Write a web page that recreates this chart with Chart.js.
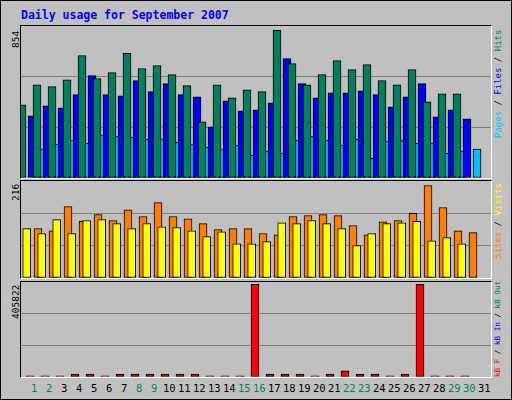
<!DOCTYPE html>
<html><head><meta charset="utf-8">
<script src="https://cdn.jsdelivr.net/npm/chart.js@4"></script>
<style>
body{margin:0;background:#fff}
#w{position:absolute;left:0;top:0;width:510px;height:398px;background:#C0C0C0;border:1px solid #000;font-family:"DejaVu Sans Mono",monospace;overflow:hidden}
.t{position:absolute;white-space:nowrap}
.p{position:absolute;border-top:1px solid #000;border-left:1px solid #000;border-right:1px solid #fff;border-bottom:1px solid #fff}
canvas{position:absolute}
.rot{position:absolute;transform-origin:0 0;transform:rotate(-90deg);white-space:nowrap;font-size:9px}
</style></head><body>
<div id="w">
<div class="t" style="left:20px;top:7px;font-size:11.5px;font-weight:bold;color:#0000FF">Daily usage for September 2007</div>
<div class="p" style="left:19px;top:24px;width:470px;height:152px"></div>
<div class="p" style="left:19px;top:179px;width:470px;height:97px"></div>
<div class="p" style="left:19px;top:280px;width:470px;height:95px"></div>
<canvas id="c1" width="470" height="152" style="left:20px;top:25px"></canvas>
<canvas id="c2" width="470" height="97" style="left:20px;top:180px"></canvas>
<canvas id="c3" width="470" height="95" style="left:20px;top:281px"></canvas>
<div class="rot" style="left:9px;top:47px;font-size:9.5px">854</div>
<div class="rot" style="left:9px;top:200px;font-size:9.5px">216</div>
<div class="rot" style="left:9px;top:318px;font-size:9.5px">405822</div>
<div class="rot" style="left:492px;top:137px"><span style="color:#00C0FF">Pages</span> / <span style="color:#0000FF">Files</span> / <span style="color:#00805C">Hits</span></div>
<div class="rot" style="left:492px;top:258px"><span style="color:#FF8000">Sites</span> / <span style="color:#FFFF00">Visits</span></div>
<div class="rot" style="left:492px;top:376px;font-size:7.6px"><span style="color:#FF0000">kB F</span> / <span style="color:#0000FF">kB In</span> / <span style="color:#00805C">kB Out</span></div>
<div id="days"></div>
</div>
<script>
const days=[1,2,3,4,5,6,7,8,9,10,11,12,13,14,15,16,17,18,19,20,21,22,23,24,25,26,27,28,29,30,31];
const weekend=[1,2,8,9,15,16,22,23,29,30];
const hits=[411,524,513,552,688,558,592,700,615,632,581,519,315,524,451,496,485,830,643,524,581,660,609,637,547,524,609,428,473,473,0];
const files=[349,405,394,468,575,468,462,547,485,530,468,456,287,434,377,383,422,671,530,451,479,479,490,468,400,456,530,343,383,332,0];
const pages=[162,190,213,196,241,236,230,219,219,202,190,174,162,185,128,151,140,213,236,213,185,219,111,207,213,196,196,140,151,162,0];
const visits=[110,99,130,99,128,130,121,110,121,114,112,105,92,103,76,76,81,123,121,128,121,110,72,99,121,123,126,83,90,76,0];
const sites=[110,105,159,126,141,128,152,137,168,137,132,121,108,110,110,99,96,137,139,141,139,117,96,125,128,144,206,157,105,101,0];
const kbF=[4500,4500,4500,13000,13000,4500,13000,13000,13000,13000,13000,13000,4500,4500,4500,396000,13000,13000,13000,4500,13000,26000,13000,13000,4500,13000,396000,4500,4500,4500,0];
const maxes=[854,216,405822];

const dl=document.getElementById('days');
days.forEach((d,i)=>{const s=document.createElement('div');s.className='t';s.textContent=d;
 s.style.cssText=`left:${20+15*i+13-(d>9?6:3)}px;top:381px;font-size:10.5px;color:${weekend.includes(d)?'#00805C':'#000'}`;dl.appendChild(s);});

function pts(arr,off){return arr.map((v,i)=>({x:i+off,y:v}));}
function ds(arr,off,color,w){return {data:pts(arr,off),backgroundColor:color,borderColor:'#000',borderWidth:1,barThickness:w,borderSkipped:false};}
function mk(id,sets,max){
 new Chart(document.getElementById(id),{type:'bar',data:{datasets:sets},
 options:{responsive:false,animation:false,events:[],layout:{padding:0},
  plugins:{legend:{display:false},tooltip:{enabled:false}},
  scales:{x:{type:'linear',min:0,max:470/15,offset:false,display:false},
   y:{min:0,max:max,afterFit:s=>{s.width=0},border:{display:false},
    ticks:{display:false,stepSize:max/3},
    grid:{drawTicks:false,color:c=>(c.tick.value<=0||c.tick.value>=max-0.01)?'rgba(0,0,0,0)':'#808080'}}}}});
}
mk('c1',[ds(hits,0.6,'#00805C',8),ds(files,0.733,'#0000FF',8),ds(pages,0.867,'#00C0FF',8)],maxes[0]);
mk('c2',[ds(visits,0.647,'#FFFF00',8),ds(sites,0.867,'#FF8000',8)],maxes[1]);
mk('c3',[ds(kbF,0.6,'#FF0000',8)],maxes[2]);
</script>
</body></html>
